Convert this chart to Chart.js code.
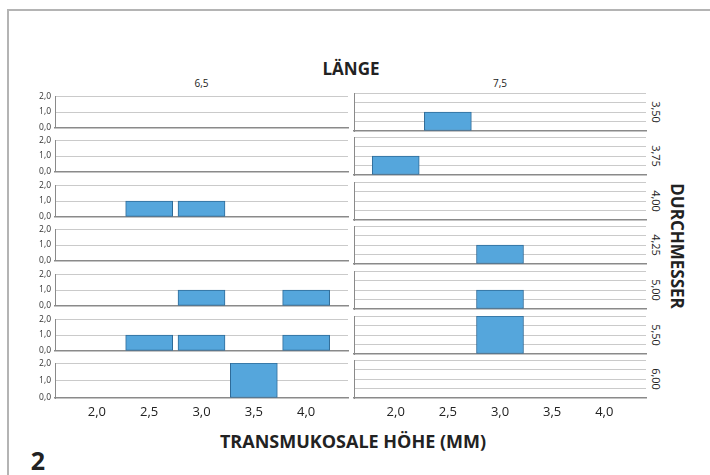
<!DOCTYPE html>
<html>
<head>
<meta charset="utf-8">
<script src="https://cdn.jsdelivr.net/npm/chart.js@4.4.1/dist/chart.umd.min.js"></script>
<style>
  body { margin: 0; background: #fff; font-family: 'Open Sans', sans-serif; }
  #wrap { position: relative; width: 710px; height: 475px; overflow: hidden; }
  #frame { position: absolute; left: 7px; top: 9px; width: 720px; height: 480px;
           border-top: 2px solid #b4b4b4; border-left: 2px solid #b4b4b4; }
  canvas { position: absolute; }
  .t { position: absolute; color: #222; white-space: nowrap; transform: translate(-50%, -50%); }
  .rot { transform: translate(-50%, -50%) rotate(90deg); }
  .bold { font-weight: 700; }
</style>
</head>
<body>
<div id="wrap">
  <div id="frame"></div>
  <div class="t bold" style="left:351px; top:68px; font-size:17px;">LÄNGE</div>
  <div class="t bold rot" style="left:677px; top:246px; font-size:17px;">DURCHMESSER</div>
  <div class="t bold" style="left:353px; top:441px; font-size:18px;">TRANSMUKOSALE HÖHE (MM)</div>
  <div class="t bold" style="left:38px; top:460px; font-size:25px;">2</div>
</div>
<script>
// Daten: Anzahl je Klasse (transmukosale Höhe) pro Länge und Durchmesser
const lengths = ['6,5', '7,5'];
const diameters = ['3,50', '3,75', '4,00', '4,25', '5,00', '5,50', '6,00'];
const binCenters = [2.0, 2.5, 3.0, 3.5, 4.0];
const xTicks = [2.0, 2.5, 3.0, 3.5, 4.0];
const yGrid = [0, 0.5, 1.0, 1.5, 2.0];

// Zeilen = Durchmesser, Spalten = binCenters
const counts65 = [
  [0, 0, 0, 0, 0],
  [0, 0, 0, 0, 0],
  [0, 1, 1, 0, 0],
  [0, 0, 0, 0, 0],
  [0, 0, 1, 0, 1],
  [0, 1, 1, 0, 1],
  [0, 0, 0, 2, 0]
];
const counts75 = [
  [0, 1, 0, 0, 0],
  [1, 0, 0, 0, 0],
  [0, 0, 0, 0, 0],
  [0, 0, 1, 0, 0],
  [0, 0, 1, 0, 0],
  [0, 0, 2, 0, 0],
  [0, 0, 0, 0, 0]
];

const fmt = v => Number(v).toFixed(1).replace('.', ',');

// Layout der Panels
const wrap = document.getElementById('wrap');
const colLeft = [55, 354];
const colWidth = [293, 292];
const axisW = 30;
const padTop = 6;
const plotH = 38;

function addText(txt, x, y, size, cls) {
  const el = document.createElement('div');
  el.className = 't ' + (cls || '');
  el.style.left = x + 'px';
  el.style.top = y + 'px';
  el.style.fontSize = size + 'px';
  el.textContent = txt;
  wrap.appendChild(el);
}

lengths.forEach((len, c) => {
  const counts = c === 0 ? counts65 : counts75;
  addText(len, colLeft[c] + colWidth[c] / 2, 83, 10);

  diameters.forEach((d, r) => {
    const last = r === diameters.length - 1;
    const top = Math.round(92.8 + 44.55 * r);

    if (c === 1) addText(d, 656, top + plotH / 2, 11, 'rot');

    const cv = document.createElement('canvas');
    cv.width = colWidth[c] + axisW + 2;
    cv.height = padTop + plotH + (last ? 26 : 6);
    cv.style.left = (colLeft[c] - axisW) + 'px';
    cv.style.top = (top - padTop) + 'px';
    wrap.appendChild(cv);

    const pts = [];
    counts[r].forEach((n, i) => {
      if (n > 0) pts.push({ x: binCenters[i], y: n });
    });

    new Chart(cv, {
      type: 'bar',
      data: {
        datasets: [{
          data: pts,
          backgroundColor: '#55a6dc',
          borderColor: '#2f6b98',
          borderWidth: 1,
          borderSkipped: false,
          barThickness: 47
        }]
      },
      options: {
        responsive: false,
        animation: false,
        layout: { padding: { top: padTop, bottom: last ? 0 : 6, left: 0, right: 2 } },
        plugins: { legend: { display: false }, tooltip: { enabled: false } },
        scales: {
          x: {
            type: 'linear',
            min: 1.6,
            max: 4.4,
            offset: false,
            afterBuildTicks: s => { s.ticks = xTicks.map(v => ({ value: v })); },
            afterTickToLabelConversion: s => { s.ticks.forEach(t => { t.label = fmt(t.value); }); },
            afterFit: s => { s.height = last ? 26 : 0; },
            grid: { display: false, drawTicks: false, offset: false },
            border: { display: true, color: '#8a8a8a', width: 1.5 },
            ticks: {
              display: last,
              padding: 6,
              color: '#222',
              maxRotation: 0,
              autoSkip: false,
              font: { family: 'Open Sans', size: 13 }
            }
          },
          y: {
            min: 0,
            max: 2,
            afterBuildTicks: s => { s.ticks = yGrid.map(v => ({ value: v })); },
            afterTickToLabelConversion: s => {
              s.ticks.forEach(t => { t.label = Number.isInteger(t.value) ? fmt(t.value) : ''; });
            },
            afterFit: s => { s.width = axisW; },
            grid: {
              drawTicks: false,
              lineWidth: 1,
              color: ctx => (ctx.tick && ctx.tick.value === 0) ? 'rgba(0,0,0,0)' : '#cacaca'
            },
            border: { display: true, color: '#8a8a8a', width: 1 },
            ticks: {
              display: c === 0,
              padding: 4,
              color: '#333',
              font: { family: 'Open Sans', size: 8.5 }
            }
          }
        }
      }
    });
  });
});
</script>
</body>
</html>
